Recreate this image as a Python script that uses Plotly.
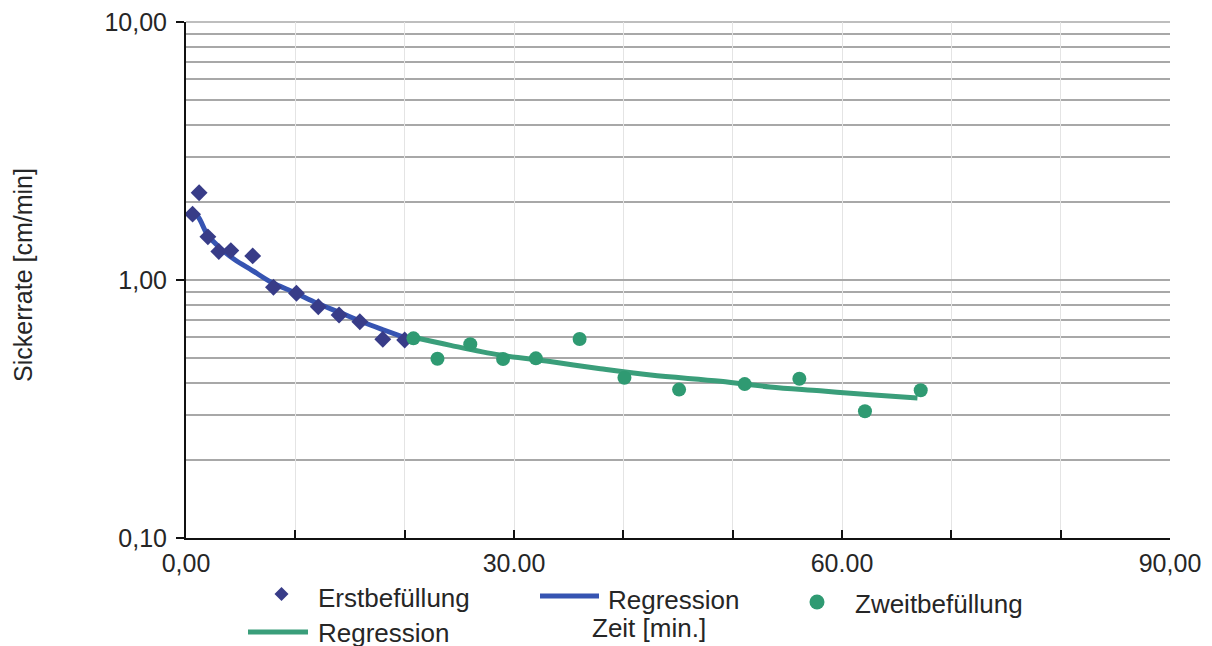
import plotly.graph_objects as go

# ---------------- data ----------------
erst_t = [0.6, 1.2, 2.0, 3.0, 4.1, 6.1, 8.0, 10.1, 12.1, 14.0, 15.9, 18.0, 20.0]
erst_v = [1.80, 2.18, 1.47, 1.29, 1.30, 1.24, 0.937, 0.888, 0.788, 0.732, 0.689, 0.589, 0.585]

reg1_t = [0.5, 1.1, 2.0, 3.3, 4.5, 6.0, 7.8, 9.9, 12.0, 14.1, 16.1, 18.1, 20.2]
reg1_v = [1.84, 1.76, 1.49, 1.31, 1.195, 1.093, 0.98, 0.895, 0.812, 0.747, 0.689, 0.640, 0.594]

zweit_t = [20.8, 23.0, 26.0, 29.0, 32.0, 36.0, 40.1, 45.1, 51.1, 56.1, 62.1, 67.2]
zweit_v = [0.594, 0.495, 0.564, 0.494, 0.497, 0.591, 0.418, 0.376, 0.395, 0.414, 0.310, 0.374]

reg2_t = [20.8, 24.2, 28.7, 33.3, 37.9, 42.5, 48.9, 53.4, 58.0, 62.6, 66.9]
reg2_v = [0.600, 0.558, 0.512, 0.483, 0.453, 0.428, 0.405, 0.385, 0.372, 0.359, 0.349]

x_tickvals = [0, 10, 20, 30, 40, 50, 60, 70, 80, 90]
x_ticktext = ["0,00", "", "", "30.00", "", "", "60.00", "", "", "90,00"]
y_tickvals = [0.1, 1, 10]
y_ticktext = ["0,10", "1,00", "10,00"]
y_minor = [0.2, 0.3, 0.4, 0.5, 0.6, 0.7, 0.8, 0.9, 2, 3, 4, 5, 6, 7, 8, 9]

legend_labels = ["Erstbefüllung", "Regression", "Zweitbefüllung", "Regression"]
x_title = "Zeit [min.]"
y_title = "Sickerrate [cm/min]"

# ---------------- styling ----------------
FONT = "Liberation Sans, Arial, sans-serif"
TXT = "#262626"
C_DIAMOND = "#383c88"
C_BLUE = "#3654b2"
C_GREEN_M = "#2f9a72"
C_GREEN_L = "#3a9e7a"
GRID = "#a8a8a8"

W, H = 1212, 646
OFF = 8  # default page (body) margin of the html page
L, R, T, B = 186, 1170, 22, 538  # plot area in screenshot pixels


def px(x):
    return (x - L) / (R - L)


def py(y):
    return (B - y) / (B - T)


fig = go.Figure()
fig.add_trace(go.Scatter(x=reg1_t, y=reg1_v, mode="lines", name=legend_labels[1],
                         line=dict(color=C_BLUE, width=5, shape="spline"), showlegend=False))
fig.add_trace(go.Scatter(x=reg2_t, y=reg2_v, mode="lines", name=legend_labels[3],
                         line=dict(color=C_GREEN_L, width=5, shape="spline"), showlegend=False))
fig.add_trace(go.Scatter(x=erst_t, y=erst_v, mode="markers", name=legend_labels[0],
                         marker=dict(symbol="diamond", size=13, color=C_DIAMOND), showlegend=False))
fig.add_trace(go.Scatter(x=zweit_t, y=zweit_v, mode="markers", name=legend_labels[2],
                         marker=dict(symbol="circle", size=14, color=C_GREEN_M), showlegend=False))

# ---------------- custom legend (Excel-like layout) ----------------
shapes = []
annotations = []
LEG = 26
# top gridline (value 10) which plotly drops at the plot edge
shapes.append(dict(type="line", xref="paper", yref="paper", x0=0, x1=1, y0=1, y1=1,
                   line=dict(color=GRID, width=1.5), layer="below"))
dx, dy, ds = 281.5, 594, 7
shapes.append(dict(type="path", xref="paper", yref="paper",
                   path=f"M {px(dx)},{py(dy-ds)} L {px(dx+ds)},{py(dy)} L {px(dx)},{py(dy+ds)} L {px(dx-ds)},{py(dy)} Z",
                   fillcolor=C_DIAMOND, line=dict(width=0)))
annotations.append(dict(x=px(316), y=py(598), xref="paper", yref="paper", text=legend_labels[0],
                        showarrow=False, xanchor="left", yanchor="middle", font=dict(size=LEG)))
shapes.append(dict(type="line", xref="paper", yref="paper", x0=px(540), x1=px(599), y0=py(596), y1=py(596),
                   line=dict(color=C_BLUE, width=5)))
annotations.append(dict(x=px(606), y=py(600), xref="paper", yref="paper", text=legend_labels[1],
                        showarrow=False, xanchor="left", yanchor="middle", font=dict(size=LEG)))
cx, cy, cr = 817, 602, 7.5
shapes.append(dict(type="circle", xref="paper", yref="paper",
                   x0=px(cx-cr), x1=px(cx+cr), y0=py(cy+cr), y1=py(cy-cr),
                   fillcolor=C_GREEN_M, line=dict(width=0)))
annotations.append(dict(x=px(853), y=py(604), xref="paper", yref="paper", text=legend_labels[2],
                        showarrow=False, xanchor="left", yanchor="middle", font=dict(size=LEG)))
shapes.append(dict(type="line", xref="paper", yref="paper", x0=px(248), x1=px(308), y0=py(632), y1=py(632),
                   line=dict(color=C_GREEN_L, width=5)))
annotations.append(dict(x=px(316), y=py(633), xref="paper", yref="paper", text=legend_labels[3],
                        showarrow=False, xanchor="left", yanchor="middle", font=dict(size=LEG)))
# axis titles placed like the original
annotations.append(dict(x=px(649), y=py(628), xref="paper", yref="paper", text=x_title,
                        showarrow=False, xanchor="center", yanchor="middle", font=dict(size=26)))
annotations.append(dict(x=px(23), y=py(275), xref="paper", yref="paper", text=y_title, textangle=-90,
                        showarrow=False, xanchor="center", yanchor="middle", font=dict(size=25)))

fig.update_layout(
    width=W, height=H,
    margin=dict(l=L - OFF, r=W - R + OFF, t=T - OFF, b=H - B + OFF, pad=0),
    paper_bgcolor="white", plot_bgcolor="white",
    font=dict(family=FONT, size=25, color=TXT),
    showlegend=False,
    shapes=shapes,
    annotations=annotations,
    xaxis=dict(
        automargin=False,
        range=[0, 90], tickmode="array", tickvals=x_tickvals, ticktext=x_ticktext,
        ticks="inside", ticklen=8, tickwidth=2, tickcolor="#111",
        showline=True, linecolor="#111", linewidth=2,
        showgrid=True, gridcolor="#e4e4e4", gridwidth=1, zeroline=False,
        tickfont=dict(size=25, color=TXT), ticklabelstandoff=2, ticklabeloverflow="allow",
    ),
    yaxis=dict(
        automargin=False,
        type="log", range=[-1, 1], tickmode="array", tickvals=y_tickvals, ticktext=y_ticktext,
        ticks="outside", ticklen=8, tickwidth=2, tickcolor="#111",
        showline=True, linecolor="#111", linewidth=2,
        showgrid=True, gridcolor=GRID, gridwidth=1.5, zeroline=False,
        tickfont=dict(size=25, color=TXT), ticklabelstandoff=4, ticklabeloverflow="allow",
        minor=dict(tickmode="array", tickvals=y_minor, showgrid=True, gridcolor=GRID,
                   gridwidth=1.5, ticks=""),
    ),
)

fig.write_html("out.html")
